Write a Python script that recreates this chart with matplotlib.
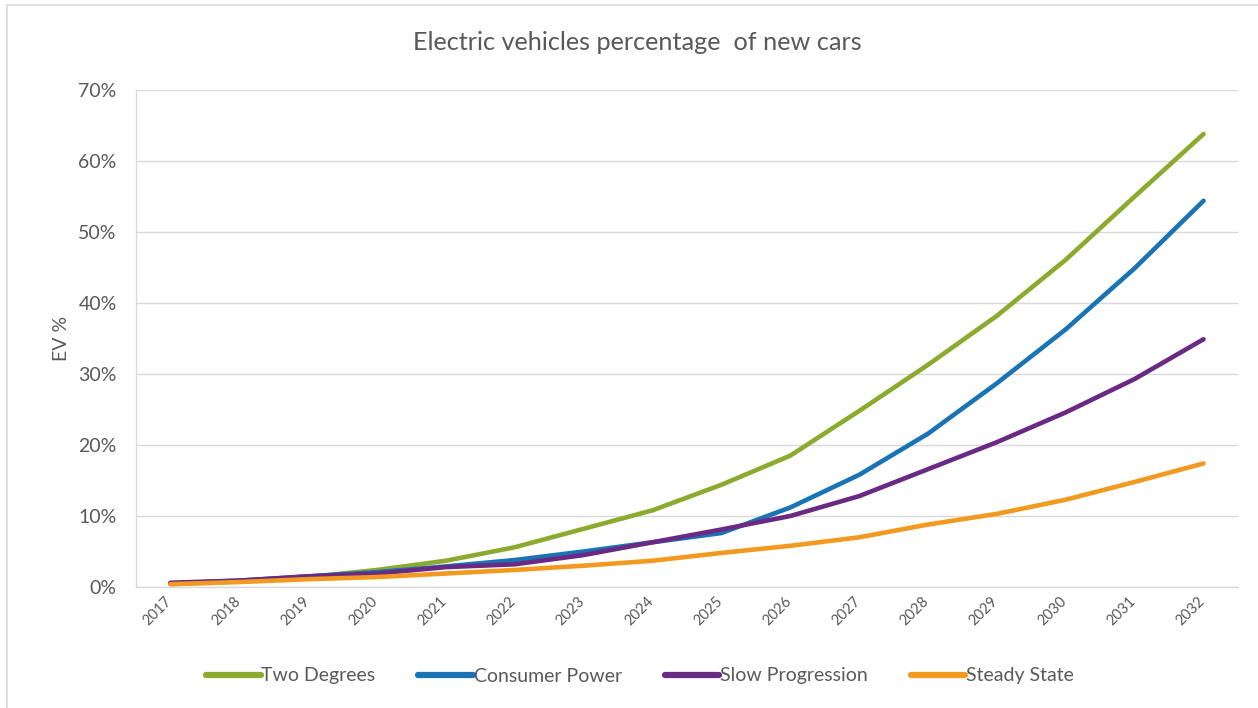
import matplotlib
matplotlib.use("Agg")
import matplotlib.pyplot as plt
from matplotlib.lines import Line2D
from matplotlib.ticker import PercentFormatter
from matplotlib.transforms import ScaledTranslation

plt.rcParams['font.family'] = ['Lato', 'DejaVu Sans']

years = [str(y) for y in range(2017, 2033)]
two_degrees = [0.4, 0.8, 1.4, 2.4, 3.7, 5.6, 8.2, 10.8, 14.4, 18.5, 24.8, 31.3, 38.2, 46.1, 55.0, 63.8]
consumer_power = [0.5, 0.9, 1.5, 2.1, 2.9, 3.8, 5.0, 6.3, 7.6, 11.2, 15.8, 21.6, 28.7, 36.3, 44.9, 54.4]
slow_progression = [0.6, 0.9, 1.5, 1.9, 2.8, 3.2, 4.5, 6.3, 8.1, 10.0, 12.8, 16.6, 20.4, 24.6, 29.3, 34.9]
steady_state = [0.4, 0.7, 1.1, 1.4, 1.9, 2.4, 3.0, 3.7, 4.8, 5.8, 7.0, 8.8, 10.3, 12.3, 14.8, 17.4]

series = [
    ("Two Degrees", two_degrees, "#8CAA2D"),
    ("Consumer Power", consumer_power, "#1A73B4"),
    ("Slow Progression", slow_progression, "#6A2A84"),
    ("Steady State", steady_state, "#F29A1F"),
]

text_color = "#595959"
grid_color = "#D9D9D9"

fig = plt.figure(figsize=(12.58, 7.08), dpi=100)
ax = fig.add_axes([136 / 1258, 121 / 708, 1102 / 1258, 497 / 708])

x = list(range(len(years)))
for name, vals, color in series:
    ax.plot(x, [v / 100 for v in vals], color=color, lw=3.3, label=name,
            solid_joinstyle='round', solid_capstyle='round')

ax.set_xlim(-0.5, len(years) - 0.5)
ax.set_ylim(0, 0.7)
ax.set_yticks([i / 10 for i in range(8)])
ax.yaxis.set_major_formatter(PercentFormatter(1.0, decimals=0))
ax.set_xticks(x)
ax.set_xticklabels(years, rotation=45, ha='right', rotation_mode='anchor')

ax.grid(axis='y', color=grid_color, lw=1)
ax.set_axisbelow(True)
for side in ('top', 'right'):
    ax.spines[side].set_visible(False)
for side in ('left', 'bottom'):
    ax.spines[side].set_color(grid_color)
    ax.spines[side].set_linewidth(1)

ax.tick_params(axis='both', length=0, colors=text_color)
ax.tick_params(axis='y', pad=14, labelsize=14)
ax.tick_params(axis='x', pad=5, labelsize=10.5)
shift = ScaledTranslation(-6 / 100, 0, fig.dpi_scale_trans)
for lbl in ax.get_xticklabels():
    lbl.set_transform(lbl.get_transform() + shift)

ax.set_ylabel("EV %", color=text_color, fontsize=14, labelpad=6)
fig.text(637 / 1258, 1 - 43 / 708, "Electric vehicles percentage  of new cars",
         ha='center', va='center', color=text_color, fontsize=18.2)

handles = [Line2D([0], [0], color=c, lw=4.5, solid_capstyle='round') for _, _, c in series]
fig.legend(handles, [n for n, _, _ in series], loc='center', ncol=4,
           bbox_to_anchor=(640 / 1258, 1 - 676 / 708), frameon=False,
           fontsize=14, labelcolor=text_color, handlelength=2.8,
           handletextpad=0.05, columnspacing=2.2)

# chart frame
fig.add_artist(Line2D([7 / 1258, 1.0], [1 - 5 / 708, 1 - 5 / 708],
                      transform=fig.transFigure, color=grid_color, lw=1.2))
fig.add_artist(Line2D([7 / 1258, 7 / 1258], [0, 1 - 5 / 708],
                      transform=fig.transFigure, color=grid_color, lw=1.2))

fig.savefig("out.png", dpi=100)
